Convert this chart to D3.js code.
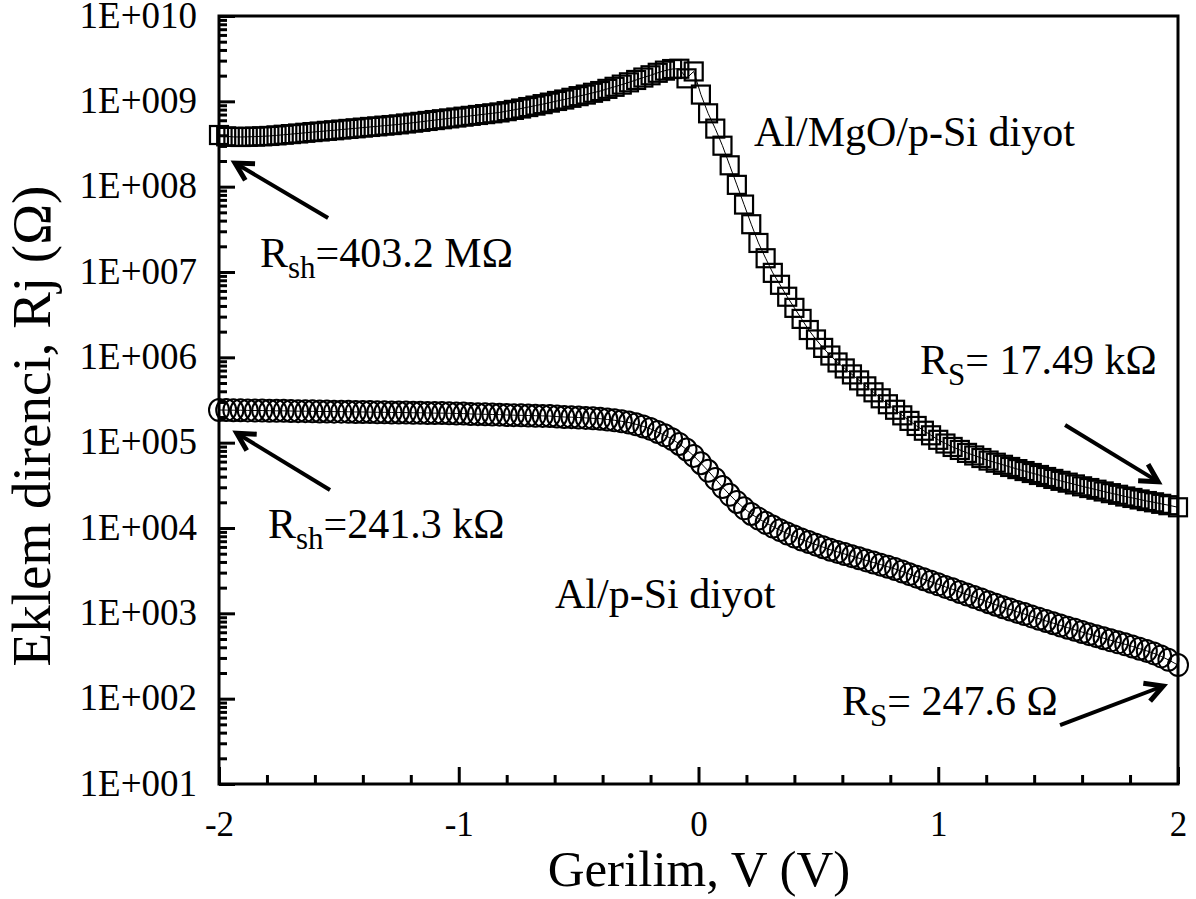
<!DOCTYPE html>
<html>
<head>
<meta charset="utf-8">
<script src="https://cdn.jsdelivr.net/npm/d3@7"></script>
<style>
  body { margin: 0; background: #fff; }
  svg { display: block; }
  text { font-family: "Liberation Serif", "Times New Roman", serif; fill: #000; }
</style>
</head>
<body>
<script>
// Gerilim (V)
var V = [
  -2.00,-1.97,-1.94,-1.91,-1.88,-1.85,-1.82,-1.79,-1.76,-1.73,
  -1.70,-1.67,-1.64,-1.61,-1.58,-1.55,-1.52,-1.49,-1.46,-1.43,
  -1.40,-1.37,-1.34,-1.31,-1.28,-1.25,-1.22,-1.19,-1.16,-1.13,
  -1.10,-1.07,-1.04,-1.01,-0.98,-0.95,-0.92,-0.89,-0.86,-0.83,
  -0.80,-0.77,-0.74,-0.71,-0.68,-0.65,-0.62,-0.59,-0.56,-0.53,
  -0.50,-0.47,-0.44,-0.41,-0.38,-0.35,-0.32,-0.29,-0.26,-0.23,
  -0.20,-0.17,-0.14,-0.11,-0.08,-0.05,-0.02,0.01,0.04,0.07,
  0.10,0.13,0.16,0.19,0.22,0.25,0.28,0.31,0.34,0.37,
  0.40,0.43,0.46,0.49,0.52,0.55,0.58,0.61,0.64,0.67,
  0.70,0.73,0.76,0.79,0.82,0.85,0.88,0.91,0.94,0.97,
  1.00,1.03,1.06,1.09,1.12,1.15,1.18,1.21,1.24,1.27,
  1.30,1.33,1.36,1.39,1.42,1.45,1.48,1.51,1.54,1.57,
  1.60,1.63,1.66,1.69,1.72,1.75,1.78,1.81,1.84,1.87,
  1.90,1.93,1.96,2.00
];

// Al/MgO/p-Si diyot, Rj (ohm)
var R_MgO = [
  4.03e8,3.89e8,3.83e8,3.82e8,3.84e8,3.86e8,3.89e8,3.93e8,3.99e8,4.06e8,
  4.13e8,4.20e8,4.28e8,4.36e8,4.43e8,4.51e8,4.58e8,4.67e8,4.75e8,4.83e8,
  4.92e8,5.01e8,5.09e8,5.19e8,5.27e8,5.37e8,5.50e8,5.62e8,5.75e8,5.89e8,
  6.03e8,6.17e8,6.31e8,6.46e8,6.61e8,6.76e8,6.92e8,7.08e8,7.24e8,7.41e8,
  7.67e8,7.94e8,8.24e8,8.57e8,8.91e8,9.27e8,9.66e8,1.01e9,1.05e9,1.10e9,
  1.15e9,1.20e9,1.26e9,1.32e9,1.40e9,1.48e9,1.57e9,1.67e9,1.78e9,1.90e9,
  2.02e9,2.16e9,2.29e9,2.39e9,2.41e9,1.86e9,2.24e9,1.20e9,7.24e8,4.79e8,
  3.02e8,1.78e8,1.05e8,6.17e7,3.63e7,2.19e7,1.45e7,9.77e6,7.08e6,5.13e6,
  3.80e6,2.82e6,2.09e6,1.62e6,1.29e6,1.05e6,8.71e5,7.41e5,6.31e5,5.37e5,
  4.57e5,3.89e5,3.31e5,2.82e5,2.43e5,2.09e5,1.80e5,1.57e5,1.38e5,1.22e5,
  1.08e5,9.77e4,8.91e4,8.22e4,7.59e4,7.08e4,6.61e4,6.17e4,5.82e4,5.50e4,
  5.19e4,4.90e4,4.65e4,4.41e4,4.18e4,3.96e4,3.76e4,3.57e4,3.40e4,3.24e4,
  3.08e4,2.94e4,2.81e4,2.68e4,2.56e4,2.45e4,2.34e4,2.25e4,2.16e4,2.07e4,
  2.00e4,1.92e4,1.85e4,1.749e4
];

// Al/p-Si diyot, Rj (ohm)
var R_Si = [
  2.413e5,2.41e5,2.40e5,2.40e5,2.39e5,2.38e5,2.38e5,2.37e5,2.36e5,2.36e5,
  2.35e5,2.34e5,2.34e5,2.33e5,2.32e5,2.32e5,2.31e5,2.31e5,2.30e5,2.29e5,
  2.29e5,2.28e5,2.27e5,2.27e5,2.26e5,2.26e5,2.25e5,2.24e5,2.24e5,2.23e5,
  2.22e5,2.22e5,2.21e5,2.20e5,2.19e5,2.17e5,2.16e5,2.15e5,2.14e5,2.13e5,
  2.11e5,2.10e5,2.09e5,2.08e5,2.07e5,2.06e5,2.05e5,2.02e5,2.00e5,1.99e5,
  1.97e5,1.95e5,1.93e5,1.91e5,1.87e5,1.83e5,1.78e5,1.72e5,1.64e5,1.55e5,
  1.45e5,1.33e5,1.22e5,1.10e5,9.66e4,8.32e4,7.00e4,5.75e4,4.68e4,3.76e4,
  3.02e4,2.45e4,2.02e4,1.70e4,1.46e4,1.29e4,1.15e4,1.04e4,9.44e3,8.61e3,
  7.94e3,7.33e3,6.84e3,6.38e3,5.96e3,5.56e3,5.25e3,4.95e3,4.68e3,4.42e3,
  4.17e3,3.94e3,3.72e3,3.51e3,3.31e3,3.09e3,2.88e3,2.69e3,2.51e3,2.34e3,
  2.19e3,2.04e3,1.91e3,1.78e3,1.66e3,1.55e3,1.45e3,1.35e3,1.26e3,1.18e3,
  1.11e3,1.04e3,980,920,865,813,766,721,679,640,
  603,570,540,511,483,457,433,409,385,363,
  339,313,285,247.6
];

var xTicks = [-2, -1, 0, 1, 2];
var xTickLabels = ["-2", "-1", "0", "1", "2"];
var yTicks = [1e1, 1e2, 1e3, 1e4, 1e5, 1e6, 1e7, 1e8, 1e9, 1e10];
var yTickLabels = ["1E+001", "1E+002", "1E+003", "1E+004", "1E+005",
                   "1E+006", "1E+007", "1E+008", "1E+009", "1E+010"];

var margin = {top: 16, right: 18, bottom: 115, left: 219},
    width = 1196 - margin.left - margin.right,
    height = 899 - margin.top - margin.bottom;

var x = d3.scaleLinear().domain([-2, 2]).range([0, width]);
var y = d3.scaleLog().domain([1e1, 1e10]).range([height, 0]);

var svg = d3.select("body").append("svg")
    .attr("width", 1196)
    .attr("height", 899);

svg.append("rect").attr("width", 1196).attr("height", 899).attr("fill", "#fff");

var g = svg.append("g")
    .attr("transform", "translate(" + margin.left + "," + margin.top + ")");

// minor ticks
var yMinor = [];
yTicks.slice(0, -1).forEach(function(t) {
  for (var m = 2; m <= 9; m++) yMinor.push(t * m);
});
var xMinor = d3.range(-2, 2.001, 0.2).filter(function(v) {
  return Math.abs(v - Math.round(v)) > 0.01;
});

var series = [
  {values: R_MgO, shape: "square"},
  {values: R_Si, shape: "circle"}
];

var line = d3.line()
    .x(function(d) { return x(d[0]); })
    .y(function(d) { return y(d[1]); });

series.forEach(function(s) {
  var pts = V.map(function(v, i) { return [v, s.values[i]]; });

  g.append("path")
      .datum(pts)
      .attr("fill", "none")
      .attr("stroke", "#000")
      .attr("stroke-width", 1)
      .attr("d", line);

  if (s.shape == "square") {
    g.selectAll(".sq")
        .data(pts)
      .enter().append("rect")
        .attr("class", "sq")
        .attr("x", function(d) { return x(d[0]) - 9; })
        .attr("y", function(d) { return y(d[1]) - 9; })
        .attr("width", 18)
        .attr("height", 18)
        .attr("fill", "none")
        .attr("stroke", "#000")
        .attr("stroke-width", 2.2);
  } else {
    g.selectAll(".ci")
        .data(pts)
      .enter().append("ellipse")
        .attr("class", "ci")
        .attr("cx", function(d) { return x(d[0]); })
        .attr("cy", function(d) { return y(d[1]); })
        .attr("rx", 10)
        .attr("ry", 11)
        .attr("fill", "none")
        .attr("stroke", "#000")
        .attr("stroke-width", 2);
  }
});

// axes
var yAxis = d3.axisLeft(y)
    .tickValues(yTicks)
    .tickSize(-16)
    .tickSizeOuter(0)
    .tickPadding(22)
    .tickFormat(function(d, i) { return yTickLabels[i]; });

var yAxisMinor = d3.axisLeft(y)
    .tickValues(yMinor)
    .tickSize(-8)
    .tickSizeOuter(0)
    .tickFormat("");

var xAxis = d3.axisBottom(x)
    .tickValues(xTicks)
    .tickSize(-17)
    .tickSizeOuter(0)
    .tickPadding(27)
    .tickFormat(function(d, i) { return xTickLabels[i]; });

var xAxisMinor = d3.axisBottom(x)
    .tickValues(xMinor)
    .tickSize(-9)
    .tickSizeOuter(0)
    .tickFormat("");

g.append("g").attr("class", "axis").call(yAxisMinor);
g.append("g").attr("class", "axis y").call(yAxis);
g.append("g").attr("class", "axis").attr("transform", "translate(0," + height + ")").call(xAxisMinor);
g.append("g").attr("class", "axis x").attr("transform", "translate(0," + height + ")").call(xAxis);

g.selectAll(".axis .domain").remove();
g.selectAll(".axis line").attr("stroke", "#000").attr("stroke-width", 3);
g.selectAll(".axis text")
    .style("font-family", "'Liberation Serif', 'Times New Roman', serif")
    .attr("fill", "#000");
g.selectAll(".axis.y text").style("font-size", "37px").attr("dy", "0.3em");
g.selectAll(".axis.x text").style("font-size", "35px");

// frame
g.append("rect")
    .attr("width", width)
    .attr("height", height)
    .attr("fill", "none")
    .attr("stroke", "#000")
    .attr("stroke-width", 3);

// axis titles
svg.append("text")
    .attr("x", 699)
    .attr("y", 886)
    .attr("text-anchor", "middle")
    .style("font-size", "51px")
    .text("Gerilim, V (V)");

svg.append("text")
    .attr("transform", "translate(50,426) rotate(-90)")
    .attr("text-anchor", "middle")
    .style("font-size", "55px")
    .text("Eklem direnci, Rj (\u03A9)");

// labels
svg.append("text").attr("x", 754).attr("y", 146).style("font-size", "42px").text("Al/MgO/p-Si diyot");
svg.append("text").attr("x", 555).attr("y", 608).style("font-size", "42px").text("Al/p-Si diyot");

function subLabel(px, py, main, sub, rest) {
  var t = svg.append("text").attr("x", px).attr("y", py).style("font-size", "42px");
  t.append("tspan").text(main);
  t.append("tspan").attr("dy", 11).style("font-size", "31px").text(sub);
  t.append("tspan").attr("dy", -11).text(rest);
}
subLabel(260, 267, "R", "sh", "=403.2 M\u03A9");
subLabel(268, 538, "R", "sh", "=241.3 k\u03A9");
subLabel(920, 374, "R", "S", "= 17.49 k\u03A9");
subLabel(842, 715, "R", "S", "= 247.6 \u03A9");

// arrows (tail -> tip, data coordinates)
var arrows = [
  {from: [-1.545, 4.3e7], to: [-1.933, 1.89e8]},
  {from: [-1.537, 2.79e4], to: [-1.926, 1.29e5]},
  {from: [1.529, 1.61e5], to: [1.917, 3.49e4]},
  {from: [1.508, 49.1], to: [1.938, 140.6]}
];

arrows.forEach(function(a) {
  var x1 = x(a.from[0]), y1 = y(a.from[1]),
      x2 = x(a.to[0]), y2 = y(a.to[1]);
  var ang = Math.atan2(y2 - y1, x2 - x1);
  var len = 20, spread = 0.5;
  g.append("line")
      .attr("x1", x1).attr("y1", y1).attr("x2", x2 - 2 * Math.cos(ang)).attr("y2", y2 - 2 * Math.sin(ang))
      .attr("stroke", "#000").attr("stroke-width", 4);
  var p = "M" + (x2 - len * Math.cos(ang - spread)) + "," + (y2 - len * Math.sin(ang - spread)) +
          "L" + x2 + "," + y2 +
          "L" + (x2 - len * Math.cos(ang + spread)) + "," + (y2 - len * Math.sin(ang + spread));
  g.append("path")
      .attr("d", p)
      .attr("fill", "none")
      .attr("stroke", "#000")
      .attr("stroke-width", 5)
      .attr("stroke-linejoin", "miter");
});
</script>
</body>
</html>
